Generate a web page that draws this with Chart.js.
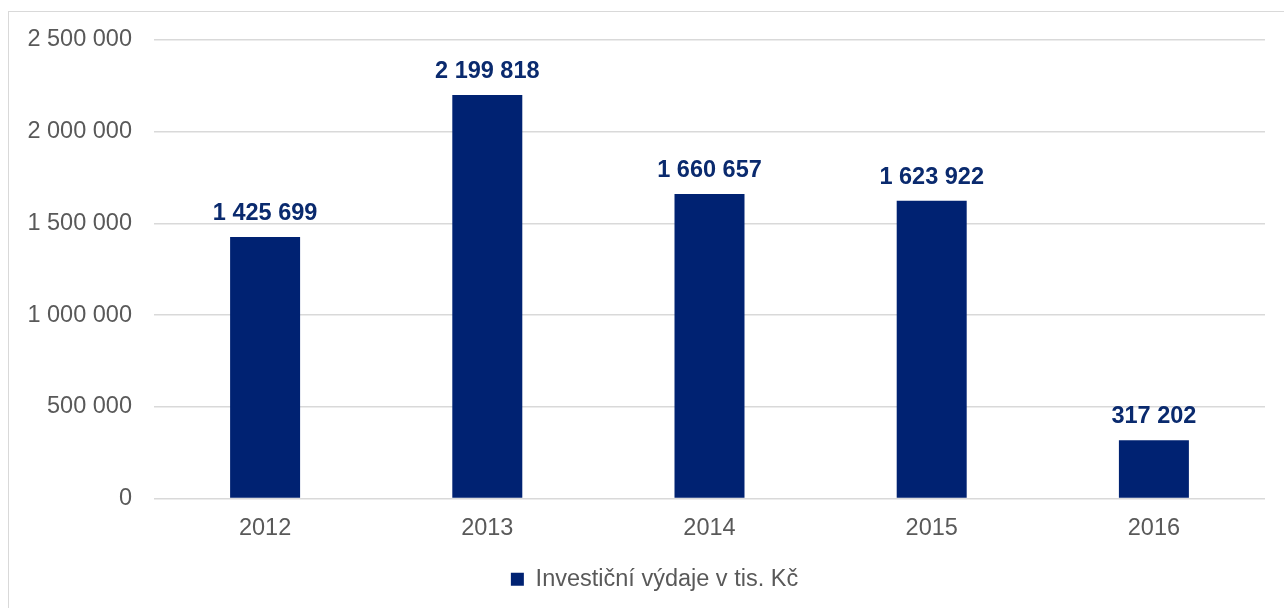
<!DOCTYPE html>
<html>
<head>
<meta charset="utf-8">
<script src="https://cdn.jsdelivr.net/npm/chart.js@4"></script>
<style>
  html, body { margin: 0; padding: 0; background: #fff; }
  #wrap { position: relative; width: 1284px; height: 608px; overflow: hidden; }
  #frame { position: absolute; left: 8px; top: 11px; width: 1300px; height: 620px; border: 1.5px solid #d9d9d9; box-sizing: border-box; }
  canvas { position: absolute; left: 0; top: 0; }
</style>
</head>
<body>
<div id="wrap">
  <div id="frame"></div>
  <canvas id="c" width="1284" height="608"></canvas>
</div>
<script>
const categories = ["2012", "2013", "2014", "2015", "2016"];
const seriesName = "Investiční výdaje v tis. Kč";
const values = [1425699, 2199818, 1660657, 1623922, 317202];
const yTicks = [0, 500000, 1000000, 1500000, 2000000, 2500000];

function fmt(v) {
  return String(Math.round(v)).replace(/\B(?=(\d{3})+(?!\d))/g, " ");
}

const FONT = "'Liberation Sans', Arial, sans-serif";
const BAR = "#002272";
const LABEL = "#0a2a6e";
const TEXT = "#595959";
const GRID = "#d9d9d9";

const dataLabels = {
  id: "dataLabels",
  afterDatasetsDraw(chart) {
    const ctx = chart.ctx;
    const meta = chart.getDatasetMeta(0);
    ctx.save();
    ctx.font = "bold 23.5px " + FONT;
    ctx.fillStyle = LABEL;
    ctx.textAlign = "center";
    ctx.textBaseline = "alphabetic";
    meta.data.forEach((bar, i) => {
      ctx.fillText(fmt(chart.data.datasets[0].data[i]), bar.x, bar.y - 17);
    });
    ctx.restore();
  }
};

const legendShift = {
  id: "legendShift",
  afterLayout(chart) {
    if (chart.legend) {
      chart.legend.left += 22;
      chart.legend.right += 22;
    }
  }
};

new Chart(document.getElementById("c"), {
  type: "bar",
  data: {
    labels: categories,
    datasets: [{
      label: seriesName,
      data: values,
      backgroundColor: BAR,
      borderWidth: 0,
      barPercentage: 0.63,
      categoryPercentage: 0.5
    }]
  },
  options: {
    responsive: false,
    animation: false,
    devicePixelRatio: 1,
    layout: { padding: { top: 40, right: 19, left: 0, bottom: 7 } },
    plugins: {
      legend: {
        position: "bottom",
        labels: {
          boxWidth: 13,
          boxHeight: 13,
          padding: 6,
          color: TEXT,
          font: { family: FONT, size: 23.5 },
          generateLabels(chart) {
            return [{
              text: seriesName,
              fillStyle: BAR,
              strokeStyle: BAR,
              lineWidth: 0,
              datasetIndex: 0,
              fontColor: TEXT
            }];
          }
        }
      },
      tooltip: { enabled: false }
    },
    scales: {
      x: {
        grid: { display: false, drawTicks: false },
        border: { display: false },
        ticks: { color: TEXT, font: { family: FONT, size: 23.5 }, padding: 16 },
        afterFit(axis) { axis.height = 63; }
      },
      y: {
        min: 0,
        max: 2500000,
        afterBuildTicks(axis) { axis.ticks = yTicks.map(v => ({ value: v })); },
        grid: { color: GRID, lineWidth: 1.5, drawTicks: false },
        border: { display: false },
        ticks: {
          color: TEXT,
          font: { family: FONT, size: 23.5 },
          padding: 22,
          callback: v => fmt(v)
        },
        afterFit(axis) { axis.width = 154; }
      }
    }
  },
  plugins: [dataLabels, legendShift]
});
</script>
</body>
</html>
